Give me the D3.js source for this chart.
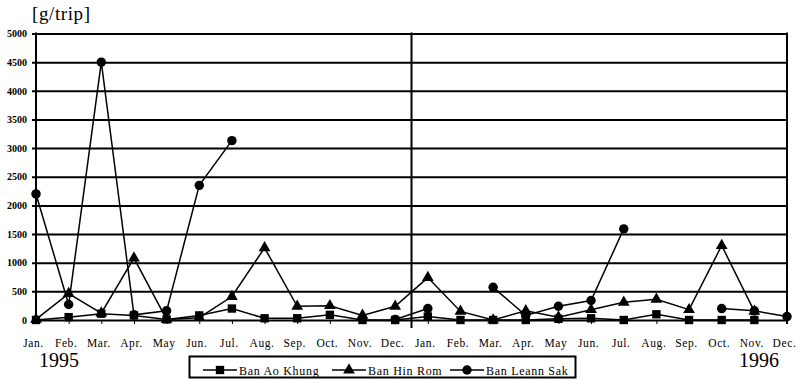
<!DOCTYPE html>
<html>
<head>
<meta charset="utf-8">
<script src="https://cdn.jsdelivr.net/npm/d3@7"></script>
<style>
  html, body { margin: 0; padding: 0; background: #fff; }
  svg { display: block; }
  text { font-family: "Liberation Serif", "Times New Roman", serif; fill: #000; }
</style>
</head>
<body>
<svg id="chart" width="800" height="380"></svg>
<script>
// ---- data ----
const monthLabels = ["Jan.","Feb.","Mar.","Apr.","May","Jun.","Jul.","Aug.","Sep.","Oct.","Nov.","Dec.",
                     "Jan.","Feb.","Mar.","Apr.","May","Jun.","Jul.","Aug.","Sep.","Oct.","Nov.","Dec."];
const years = ["1995", "1996"];
const yTicks = [0, 500, 1000, 1500, 2000, 2500, 3000, 3500, 4000, 4500, 5000];
const unitLabel = "[g/trip]";
const seriesNames = ["Ban Ao Khung", "Ban Hin Rom", "Ban Leann Sak"];

const aoKhung  = [0, 50, 110, 80, 10, 80, 200, 30, 30, 90, 0, 0,
                  60, 0, 0, 0, 20, 30, 0, 100, 0, 0, 0, null];
const hinRom   = [10, 460, 120, 1080, 10, 40, 410, 1260, 240, 250, 80, 240,
                  740, 150, 0, 160, 50, 180, 310, 360, 180, 1300, 150, null];
const leannSak = [2200, 270, 4500, 90, 160, 2350, 3130, null, null, null, null, 10,
                  200, null, 570, 80, 240, 340, 1590, null, null, 200, 160, 60];

// ---- layout ----
const svg = d3.select("#chart");
const pL = 36, pR = 787, pT = 33.5, pB = 320;

const idx = d3.range(monthLabels.length);
const x = d3.scalePoint().domain(idx).range([pL, pR]);
const y = d3.scaleLinear().domain([0, 5000]).range([pB, pT]);

// horizontal gridlines + y tick labels
const yAxis = d3.axisLeft(y).tickValues(yTicks).tickFormat(d3.format("d"))
  .tickSize(0).tickSizeOuter(0).tickPadding(8);
const gy = svg.append("g").attr("transform", `translate(${pL},0)`).call(yAxis);
gy.select(".domain").remove();
gy.selectAll(".tick line").attr("x1", -4).attr("x2", pR - pL + 1)
  .attr("stroke", "#000").attr("stroke-width", 2);
gy.selectAll(".tick text").attr("x", -9).attr("font-size", 10).attr("font-weight", "bold");

// left axis, right border, year divider
svg.append("line").attr("x1", pL).attr("x2", pL).attr("y1", pT - 1).attr("y2", pB + 1)
  .attr("stroke", "#000").attr("stroke-width", 2);
svg.append("line").attr("x1", pR).attr("x2", pR).attr("y1", pT - 1).attr("y2", pB + 4)
  .attr("stroke", "#000").attr("stroke-width", 2);
const divX = (x(11) + x(12)) / 2;
svg.append("line").attr("x1", divX).attr("x2", divX).attr("y1", pT - 1).attr("y2", pB + 8)
  .attr("stroke", "#000").attr("stroke-width", 2);

// x axis with small ticks and month labels
const xAxis = d3.axisBottom(x).tickSize(4).tickSizeOuter(0).tickFormat(i => monthLabels[i]);
const gx = svg.append("g").attr("transform", `translate(0,${pB})`).call(xAxis);
gx.select(".domain").remove();
gx.selectAll(".tick line").attr("stroke", "#000").attr("stroke-width", 1);
gx.selectAll(".tick text").attr("y", 0).attr("dy", 27).attr("dx", -3)
  .attr("font-size", 11.5).attr("letter-spacing", 0.6);

// year labels
svg.append("text").attr("x", 59).attr("y", 367).attr("text-anchor", "middle")
  .attr("font-size", 20).text(years[0]);
svg.append("text").attr("x", 759).attr("y", 367).attr("text-anchor", "middle")
  .attr("font-size", 20).text(years[1]);

// unit label
svg.append("text").attr("x", 32).attr("y", 20).attr("font-size", 19)
  .attr("letter-spacing", 0.6).text(unitLabel);

// ---- series ----
const line = d3.line().defined(d => d != null).x((d, i) => x(i)).y(d => y(d));
const seriesData = [aoKhung, hinRom, leannSak];
const symbols = [
  d3.symbol().type(d3.symbolSquare).size(70),
  d3.symbol().type(d3.symbolTriangle).size(60),
  d3.symbol().type(d3.symbolCircle).size(70)
];

seriesData.forEach((vals, s) => {
  svg.append("path").attr("d", line(vals)).attr("fill", "none")
    .attr("stroke", "#000").attr("stroke-width", 1.5);
  svg.append("g").selectAll("path")
    .data(vals.map((v, i) => ({ v, i })).filter(d => d.v != null))
    .join("path")
    .attr("transform", d => `translate(${x(d.i)},${y(d.v)})`)
    .attr("d", symbols[s]()).attr("fill", "#000");
});

// ---- legend ----
const lg = svg.append("g");
lg.append("rect").attr("x", 189.5).attr("y", 356.5).attr("width", 386).attr("height", 21)
  .attr("fill", "#fff").attr("stroke", "#000").attr("stroke-width", 2);
const legendX = [203, 332, 450];
const lineW = 34;
seriesNames.forEach((name, s) => {
  const lx = legendX[s];
  lg.append("line").attr("x1", lx).attr("x2", lx + lineW).attr("y1", 370).attr("y2", 370)
    .attr("stroke", "#000").attr("stroke-width", 1.6);
  lg.append("path").attr("transform", `translate(${lx + lineW / 2},370)`)
    .attr("d", symbols[s]()).attr("fill", "#000");
  lg.append("text").attr("x", lx + lineW + 2).attr("y", 375).attr("font-size", 12)
    .attr("letter-spacing", 0.7).text(name);
});
</script>
</body>
</html>
